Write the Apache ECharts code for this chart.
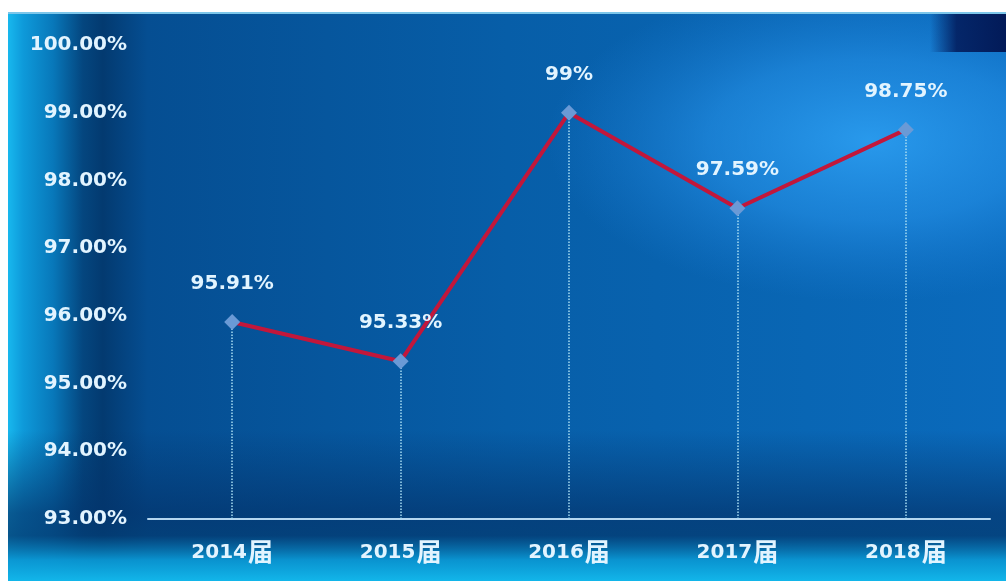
<!DOCTYPE html>
<html>
<head>
<meta charset="utf-8">
<script src="https://cdn.jsdelivr.net/npm/echarts@6/dist/echarts.min.js"></script>
<style>
    html, body { margin: 0; padding: 0; background: #fff; }
    #chart { width: 1006px; height: 581px; }
</style>
</head>
<body>
<div id="chart"></div>
<script>
// 数据
const years = ['2014', '2015', '2016', '2017', '2018'];
const categories = years.map(y => y + '届');
const rates = [95.91, 95.33, 99, 97.59, 98.75];
const valueLabels = ['95.91%', '95.33%', '99%', '97.59%', '98.75%'];
const yMin = 93;
const yMax = 100;

const fontFamily = '"DejaVu Sans", "Noto Sans CJK SC", sans-serif';
const cjkFont = '"Noto Sans CJK SC", sans-serif';
const textColor = '#e2f4ff';

// 竖向虚线 (点到x轴)
const dropLines = categories.map((c, i) => [
    { coord: [c, yMin] },
    { coord: [c, rates[i]] }
]);

const chart = echarts.init(document.getElementById('chart'));

const option = {
    backgroundColor: '#ffffff',
    animation: false,
    graphic: [
        // 底色 横向渐变
        {
            type: 'rect', z: -10, silent: true,
            shape: { x: 8, y: 12, width: 998, height: 569 },
            style: {
                fill: new echarts.graphic.LinearGradient(0, 0, 1, 0, [
                    { offset: 0, color: '#18b8ee' },
                    { offset: 0.015, color: '#0e9ada' },
                    { offset: 0.045, color: '#0878ba' },
                    { offset: 0.075, color: '#04467f' },
                    { offset: 0.095, color: '#033a70' },
                    { offset: 0.14, color: '#054e92' },
                    { offset: 0.5, color: '#075ea8' },
                    { offset: 0.8, color: '#0966b4' },
                    { offset: 1, color: '#0a6abc' }
                ])
            }
        },
        // 右上 亮色 (椭圆)
        {
            type: 'circle', z: -9, silent: true,
            shape: { cx: 0, cy: 0, r: 190 },
            x: 870, y: 140,
            scaleX: 1.7, scaleY: 0.85,
            style: {
                fill: new echarts.graphic.RadialGradient(0.5, 0.5, 0.5, [
                    { offset: 0, color: 'rgba(46,162,245,0.85)' },
                    { offset: 0.5, color: 'rgba(40,150,238,0.55)' },
                    { offset: 1, color: 'rgba(30,130,220,0)' }
                ])
            }
        },
        // 右上 深色块
        {
            type: 'rect', z: -8, silent: true,
            shape: { x: 930, y: 12, width: 76, height: 40 },
            style: {
                fill: new echarts.graphic.LinearGradient(0, 0, 1, 0, [
                    { offset: 0, color: 'rgba(3,30,95,0)' },
                    { offset: 0.35, color: 'rgba(3,30,95,0.9)' },
                    { offset: 1, color: '#021a58' }
                ])
            }
        },
        // 底部 渐变
        {
            type: 'rect', z: -7, silent: true,
            shape: { x: 8, y: 430, width: 998, height: 151 },
            style: {
                fill: new echarts.graphic.LinearGradient(0, 0, 0, 1, [
                    { offset: 0, color: 'rgba(3,50,105,0)' },
                    { offset: 0.55, color: 'rgba(3,52,108,0.7)' },
                    { offset: 0.7, color: 'rgba(3,60,115,0.8)' },
                    { offset: 0.86, color: 'rgba(10,150,210,0.95)' },
                    { offset: 1, color: '#12b6ea' }
                ])
            }
        },
        // 白边 (上/左)
        {
            type: 'rect', z: -5, silent: true,
            shape: { x: 0, y: 0, width: 1006, height: 12 },
            style: { fill: '#ffffff' }
        },
        {
            type: 'rect', z: -5, silent: true,
            shape: { x: 0, y: 0, width: 8, height: 581 },
            style: { fill: '#ffffff' }
        },
        // 上边线
        {
            type: 'rect', z: -4, silent: true,
            shape: { x: 8, y: 12, width: 998, height: 2 },
            style: { fill: '#7cc6ea' }
        }
    ],
    grid: {
        left: 148,
        right: 16,
        top: 45,
        bottom: 62
    },
    xAxis: {
        type: 'category',
        data: categories,
        boundaryGap: true,
        axisLine: { lineStyle: { color: '#b4d6f0', width: 2 } },
        axisTick: { show: false },
        axisLabel: {
            interval: 0,
            margin: 20,
            color: textColor,
            fontSize: 20,
            fontWeight: 'bold',
            fontFamily: fontFamily,
            formatter: (v) => '{n|' + v.slice(0, 4) + '}{c|' + v.slice(4) + '}',
            rich: {
                n: { color: textColor, fontSize: 20, fontWeight: 'bold', fontFamily: fontFamily },
                c: { color: textColor, fontSize: 25, fontWeight: 'bold', fontFamily: cjkFont, padding: [0, 0, 2, 1] }
            }
        },
        splitLine: { show: false }
    },
    yAxis: {
        type: 'value',
        min: yMin,
        max: yMax,
        interval: 1,
        axisLine: { show: false },
        axisTick: { show: false },
        splitLine: { show: false },
        axisLabel: {
            margin: 21,
            color: textColor,
            fontSize: 20,
            fontWeight: 'bold',
            fontFamily: fontFamily,
            formatter: (v) => v.toFixed(2) + '%'
        }
    },
    series: [
        {
            type: 'line',
            data: rates,
            symbol: 'diamond',
            symbolSize: 16,
            itemStyle: { color: '#6a9ad6' },
            lineStyle: { color: '#c2173b', width: 4 },
            label: {
                show: true,
                position: 'top',
                distance: 20,
                color: textColor,
                fontSize: 20,
                fontWeight: 'bold',
                fontFamily: fontFamily,
                formatter: (p) => valueLabels[p.dataIndex]
            },
            markLine: {
                silent: true,
                symbol: ['none', 'none'],
                label: { show: false },
                lineStyle: { color: '#a6dcf2', type: 'dotted', width: 1.5 },
                data: dropLines,
                z: 1
            },
            z: 3
        }
    ]
};

chart.setOption(option);
</script>
</body>
</html>
